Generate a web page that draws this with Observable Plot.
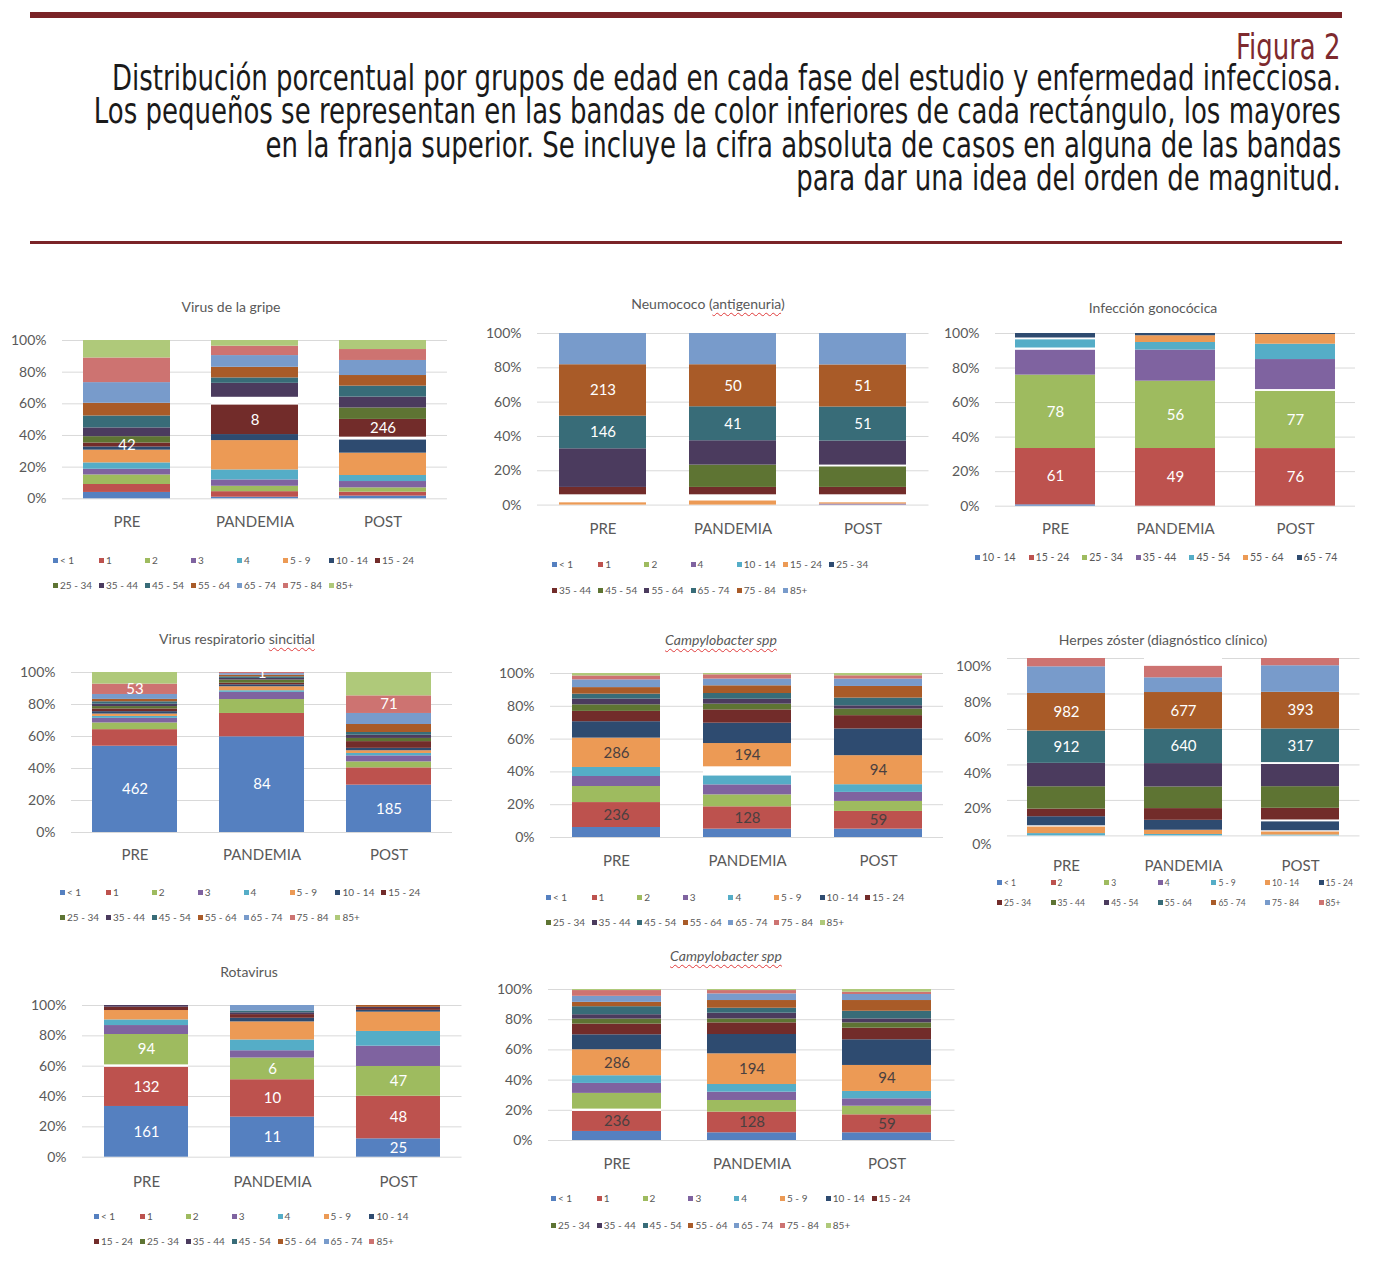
<!DOCTYPE html>
<html><head><meta charset="utf-8">
<script src="https://cdn.jsdelivr.net/npm/d3@7"></script>
<script src="https://cdn.jsdelivr.net/npm/@observablehq/plot@0.6"></script>
<style>
body{margin:0;background:#fff;}
#page{position:relative;width:1376px;height:1268px;overflow:hidden;font-family:Lato,"Open Sans",sans-serif;background:#fff;}
.rule{position:absolute;background:#7a2327;}
.hdr{position:absolute;right:35px;white-space:nowrap;font-family:"Liberation Sans Narrow","DejaVu Sans Condensed",sans-serif;font-size:35px;line-height:33px;color:#1a1a1a;transform-origin:right center;}
.title{position:absolute;transform:translate(-50%,-50%);white-space:nowrap;font-size:14px;color:#595959;}
.w{text-decoration:underline wavy #e03a3a;text-decoration-thickness:1px;text-underline-offset:3px;}
.lg{position:absolute;white-space:nowrap;color:#595959;line-height:12px;transform:translateY(-50%);}
.lg i{display:inline-block;width:5px;height:5px;margin-right:2px;vertical-align:1px;}
svg{position:absolute;overflow:visible;}
</style></head><body><div id="page"></div>
<script>
// ---------- data ----------
const phases = ["PRE", "PANDEMIA", "POST"];
const yTicks = [0, 0.2, 0.4, 0.6, 0.8, 1];
const palette = ["#5580C0","#BD524E","#9EBB5F","#7F63A0","#55ADC7","#EC9A55","#2E4B70","#722C2A","#5E7433","#4B3B5E","#386C78","#A95B28","#789BCB","#CD7371","#AFC97A"];

const headerFig = "Figura 2";
const headerLines = [
  "Distribución porcentual por grupos de edad en cada fase del estudio y enfermedad infecciosa.",
  "Los pequeños se representan en las bandas de color inferiores de cada rectángulo, los mayores",
  "en la franja superior. Se incluye la cifra absoluta de casos en alguna de las bandas",
  "para dar una idea del orden de magnitud."
];

const ages15 = ["< 1","1","2","3","4","5 - 9","10 - 14","15 - 24","25 - 34","35 - 44","45 - 54","55 - 64","65 - 74","75 - 84","85+"];

// Virus de la gripe
const gripePRE      = [4, 5, 6, 3.6, 4, 8, 2, 2.5, 4, 5.5, 7.5, 8, 13, 15.5, 11];
const gripePANDEMIA = [1, 3.5, 3.4, 4, 6.3, 18.5, 3.8, 18.7, 0, 8.8, 3.4, 6.7, 7.4, 5.9, 3.6];
const gripePOST     = [1.7, 2.5, 2.7, 4, 3.8, 14.1, 8.4, 11.2, 7.2, 6.9, 6.9, 6.7, 9.5, 6.9, 5.7];
const gripeGaps     = [["PANDEMIA","15 - 24",4.8],["POST","10 - 14",1.7]];
const gripeLabels   = [["PRE","15 - 24","42"],["PANDEMIA","15 - 24","8"],["POST","15 - 24","246"]];

// Neumococo
const neumoAges     = ["< 1","1","2","4","10 - 14","15 - 24","25 - 34","35 - 44","45 - 54","55 - 64","65 - 74","75 - 84","85+"];
const neumoPRE      = [0, 0, 0, 0, 0, 1.4, 0, 4.3, 0, 22.5, 19, 30, 18.2];
const neumoPANDEMIA = [0, 0, 0, 0, 0, 2.5, 0, 4.3, 13, 14.2, 19.8, 24.5, 18.2];
const neumoPOST     = [0, 0, 0, 0.6, 0, 0.8, 0, 4.3, 12, 14, 19.8, 24.5, 18.3];
const neumoGaps     = [["PRE","15 - 24",4.6],["PANDEMIA","15 - 24",3.5],["POST","15 - 24",4.6],["POST","45 - 54",1]];
const neumoLabels   = [["PRE","65 - 74","146"],["PRE","75 - 84","213"],["PANDEMIA","65 - 74","41"],["PANDEMIA","75 - 84","50"],["POST","65 - 74","51"],["POST","75 - 84","51"]];

// Infección gonocócica
const gonoAges      = ["10 - 14","15 - 24","25 - 34","35 - 44","45 - 54","55 - 64","65 - 74"];
const gonoPRE       = [0.8, 32.6, 42.5, 14.5, 4.8, 0, 2.6];
const gonoPANDEMIA  = [0, 33.4, 39, 18, 4.4, 3.9, 1.3];
const gonoPOST      = [0, 33.4, 33.2, 17.4, 8.9, 5.6, 0.6];
const gonoGaps      = [["PRE","35 - 44",1.2],["PRE","45 - 54",1],["POST","25 - 34",1]];
const gonoLabels    = [["PRE","15 - 24","61"],["PRE","25 - 34","78"],["PANDEMIA","15 - 24","49"],["PANDEMIA","25 - 34","56"],["POST","15 - 24","76"],["POST","25 - 34","77"]];

// Virus respiratorio sincitial
const vrsPRE        = [54.2, 10.4, 4.2, 2.9, 1.2, 1.5, 1.5, 1.7, 1.5, 1.5, 1.5, 1.5, 3.1, 6.5, 7.3];
const vrsPANDEMIA   = [59.8, 14.6, 8.7, 4.5, 1, 2.5, 1.2, 1, 2, 1, 1, 1, 1, 0.7, 0];
const vrsPOST       = [29.6, 10.8, 3.75, 3.75, 1.5, 1.7, 1.5, 4.2, 2, 2, 1.7, 5, 6.9, 11, 14.6];
const vrsGaps       = [];
const vrsLabels     = [["PRE","< 1","462"],["PRE","75 - 84","53"],["PANDEMIA","< 1","84"],["PANDEMIA","75 - 84","1"],["POST","< 1","185"],["POST","75 - 84","71"]];

// Campylobacter spp (1)
const campy1PRE      = [6.1, 15.2, 9.8, 6.1, 5.5, 17.9, 10, 6.3, 4, 3.5, 3, 4, 4.7, 2.4, 1.5];
const campy1PANDEMIA = [5.1, 13.6, 7.3, 6.1, 5.5, 14.2, 12.4, 8.1, 3.5, 3, 3.5, 4.7, 4.1, 2.6, 0.8];
const campy1POST     = [5.1, 10.8, 6.1, 5.5, 4.7, 17.7, 16.3, 8.1, 4, 2, 4.7, 7.1, 4.5, 2, 1.4];
const campy1Gaps     = [["PANDEMIA","4",5.5]];
const campy1Labels   = [["PRE","1","236"],["PRE","5 - 9","286"],["PANDEMIA","1","128"],["PANDEMIA","5 - 9","194"],["POST","1","59"],["POST","5 - 9","94"]];

// Herpes zóster
const herpesAges     = ["< 1","2","3","4","5 - 9","10 - 14","15 - 24","25 - 34","35 - 44","45 - 54","55 - 64","65 - 74","75 - 84","85+"];
const herpesPRE      = [0, 0, 0, 0, 1.3, 3.8, 5.1, 4.3, 12.6, 13.2, 18.2, 21.2, 15, 4.7];
const herpesPANDEMIA = [0, 0, 0, 0, 0.8, 2.4, 5.6, 6.6, 12.2, 13.2, 19.4, 20.7, 8.3, 6.6];
const herpesPOST     = [0, 0, 0, 0, 0.5, 1.8, 5.1, 6.6, 12.2, 12.6, 19, 20.7, 15, 4.1];
const herpesGaps     = [["PRE","10 - 14",0.6],["PANDEMIA","85+",4.3],["POST","10 - 14",0.6],["POST","15 - 24",1],["POST","45 - 54",1]];
const herpesLabels   = [["PRE","55 - 64","912"],["PRE","65 - 74","982"],["PANDEMIA","55 - 64","640"],["PANDEMIA","65 - 74","677"],["POST","55 - 64","317"],["POST","65 - 74","393"]];

// Rotavirus
const rotaAges       = ["< 1","1","2","3","4","5 - 9","10 - 14","15 - 24","25 - 34","35 - 44","45 - 54","55 - 64","65 - 74","85+"];
const rotaPRE        = [33.4, 25.9, 20, 5.9, 3.7, 6.2, 0, 2.2, 0, 1.1, 0, 0, 0, 0];
const rotaPANDEMIA   = [26.4, 24.6, 14.3, 4.8, 7.1, 11.9, 2.4, 2.4, 0, 1.2, 1.2, 0, 3.6, 0];
const rotaPOST       = [12.1, 28.1, 19.6, 13.4, 9.7, 12.7, 1.2, 1.2, 0, 0.8, 0, 1.2, 0, 0];
const rotaGaps       = [["PRE","1",1.5]];
const rotaLabels     = [["PRE","< 1","161"],["PRE","1","132"],["PRE","2","94"],["PANDEMIA","< 1","11"],["PANDEMIA","1","10"],["PANDEMIA","2","6"],["POST","< 1","25"],["POST","1","48"],["POST","2","47"]];

// Campylobacter spp (2)
const campy2PRE      = [6, 13.3, 10.4, 6.6, 5.1, 17.2, 9.9, 7.1, 3.3, 2.9, 5.3, 2.9, 4, 3.8, 0.7];
const campy2PANDEMIA = [5.1, 13.7, 7.7, 5.5, 5.1, 20.3, 12.8, 7.7, 2.6, 3.8, 3.3, 5.1, 4.4, 2.2, 0.7];
const campy2POST     = [5.1, 11.9, 5.7, 4.9, 4.9, 17.2, 17, 7.7, 3.5, 2.6, 5.1, 7.1, 4, 1.5, 1.8];
const campy2Gaps     = [["PRE","1",1.5]];
const campy2Labels   = [["PRE","1","236"],["PRE","5 - 9","286"],["PANDEMIA","1","128"],["PANDEMIA","5 - 9","194"],["POST","1","59"],["POST","5 - 9","94"]];

// ---------- layout ----------
const charts = [
  {title:'Virus de la gripe', ages:ages15, vals:[gripePRE,gripePANDEMIA,gripePOST], gaps:gripeGaps, labels:gripeLabels,
   fx:[62,447], fy:[340,498.3], pad:0.32, tx:231, ty:306, xPad:18, lx:53, ly:[559.5,584.5], lcol:46, perRow:8, lc:"#fff", lf:10},
  {title:'Neumococo (<span class="w">antigenuria</span>)', ages:neumoAges, vals:[neumoPRE,neumoPANDEMIA,neumoPOST], gaps:neumoGaps, labels:neumoLabels,
   fx:[537,928.5], fy:[332.7,504.3], pad:0.33, tx:708, ty:303, xPad:18, lx:552, ly:[564,590], lcol:46.2, perRow:7, lc:"#fff", lf:10},
  {title:'Infección gonocócica', ages:gonoAges, vals:[gonoPRE,gonoPANDEMIA,gonoPOST], gaps:gonoGaps, labels:gonoLabels,
   fx:[994.5,1354.5], fy:[333.3,506], pad:0.333, tx:1153, ty:306.5, xPad:17, lx:975, ly:[556.7], lcol:53.6, perRow:7, lc:"#fff", lf:10.5},
  {title:'Virus respiratorio <span class="w">sincitial</span>', ages:ages15, vals:[vrsPRE,vrsPANDEMIA,vrsPOST], gaps:vrsGaps, labels:vrsLabels,
   fx:[71,452], fy:[672.3,832.3], pad:0.33, tx:237, ty:638, xPad:16.5, lx:60, ly:[891.7,916.7], lcol:45.9, perRow:8, lc:"#fff", lf:10},
  {title:'<i class="w">Campylobacter spp</i>', ages:ages15, vals:[campy1PRE,campy1PANDEMIA,campy1POST], gaps:campy1Gaps, labels:campy1Labels,
   fx:[549.5,942.5], fy:[672.7,836.7], pad:0.33, tx:721, ty:639, xPad:18, lx:546, ly:[896.7,921.7], lcol:45.6, perRow:8, lc:"#4a4040", lf:10},
  {title:'Herpes zóster (diagnóstico clínico)', ages:herpesAges, vals:[herpesPRE,herpesPANDEMIA,herpesPOST], gaps:herpesGaps, labels:herpesLabels,
   fx:[1007,1359.5], fy:[658.3,835.7], pad:0.336, tx:1163, ty:639, xPad:24.5, lx:997, ly:[882.7,902.7], lcol:53.6, perRow:7, lc:"#fff", lf:8.5, yShift:8.5},
  {title:'Rotavirus', ages:rotaAges, vals:[rotaPRE,rotaPANDEMIA,rotaPOST], gaps:rotaGaps, labels:rotaLabels,
   fx:[81.75,461.25], fy:[1005,1156.7], pad:0.33, tx:249, ty:971, xPad:19, lx:94, ly:[1216,1241], lcol:45.9, perRow:7, lc:"#fff", lf:10},
  {title:'<i class="w">Campylobacter spp</i>', ages:ages15, vals:[campy2PRE,campy2PANDEMIA,campy2POST], gaps:campy2Gaps, labels:campy2Labels,
   fx:[547.75,954.25], fy:[989,1140], pad:0.343, tx:726, ty:955, xPad:17.5, lx:551, ly:[1198.3,1225], lcol:45.8, perRow:8, lc:"#4a4040", lf:10}
];

const page = document.getElementById("page");

// ---------- header ----------
function addRule(top, h) {
  const r = document.createElement("div");
  r.className = "rule";
  Object.assign(r.style, {left: "30px", width: "1312px", top: top + "px", height: h + "px"});
  page.appendChild(r);
}
addRule(11.7, 6.5);
addRule(241, 2.5);
const hdrEls = [];
function addHdr(text, baseline, color) {
  const d = document.createElement("div");
  d.className = "hdr";
  d.textContent = text;
  d.style.top = (baseline - 28.6) + "px";
  if (color) d.style.color = color;
  page.appendChild(d);
  hdrEls.push(d);
  return d;
}
addHdr(headerFig, 59.3, "#7e2a2e");
const hdrBase = [90.7, 124, 157.3, 190.7];
const firstLine = headerLines.map((t, i) => addHdr(t, hdrBase[i]))[0];
function fitHeader() {
  hdrEls.forEach(e => e.style.transform = "none");
  const w = firstLine.getBoundingClientRect().width;
  const k = 1229 / w;
  hdrEls.forEach(e => e.style.transform = `scaleX(${k})`);
}
fitHeader();
if (document.fonts && document.fonts.ready) document.fonts.ready.then(fitHeader);

// ---------- charts ----------
function makeChart(c) {
  const rows = [];
  phases.forEach((p, pi) => {
    c.ages.forEach((a, i) => {
      const lab = c.labels.find(l => l[0] === p && l[1] === a);
      rows.push({phase: p, age: a, value: c.vals[pi][i], label: lab ? lab[2] : null});
      c.gaps.filter(g => g[0] === p && g[1] === a).forEach(g => rows.push({phase: p, age: "gap", value: g[2], label: null}));
    });
  });
  const mL = 60, mR = 10, mT = 14, mB = 42;
  const W = c.fx[1] - c.fx[0] + mL + mR;
  const H = c.fy[1] - c.fy[0] + mT + mB;
  const st = {x: "phase", y: "value", offset: "normalize", order: null};
  const svg = Plot.plot({
    width: W, height: H,
    marginLeft: mL, marginRight: mR, marginTop: mT, marginBottom: mB,
    style: {fontFamily: "Lato, 'Open Sans', sans-serif", fontSize: "14px", color: "#595959", background: "transparent", overflow: "visible"},
    x: {domain: phases, paddingInner: c.pad, paddingOuter: c.pad / 2, tickSize: 0, tickPadding: c.xPad, label: null},
    y: {domain: [0, 1], ticks: yTicks, tickFormat: d3.format(".0%"), tickSize: 0, tickPadding: 16, label: null},
    color: {domain: [...c.ages, "gap"], range: [...palette.slice(0, c.ages.length), "#ffffff"]},
    marks: [
      Plot.ruleY(yTicks, {stroke: "#d9d9d9", strokeWidth: 1}),
      Plot.barY(rows, Plot.stackY({...st, fill: "age"})),
      Plot.text(rows, Plot.stackY({...st, text: "label", fill: c.lc, fontSize: 15}))
    ]
  });
  svg.style.left = (c.fx[0] - mL) + "px";
  svg.style.top = (c.fy[0] - mT) + "px";
  svg.querySelectorAll('[aria-label^="x-axis"] text').forEach(t => { t.style.fontSize = "15px"; });
  svg.querySelectorAll('[aria-label^="y-axis"] text').forEach(t => { t.style.fontSize = "14px"; });
  if (c.yShift) {
    svg.querySelectorAll('[aria-label^="y-axis"]').forEach(g => {
      const tr = g.getAttribute("transform") || "";
      g.setAttribute("transform", tr + ` translate(0,${c.yShift})`);
    });
  }
  page.appendChild(svg);

  const t = document.createElement("div");
  t.className = "title";
  t.innerHTML = c.title;
  t.style.left = c.tx + "px";
  t.style.top = c.ty + "px";
  page.appendChild(t);

  c.ages.forEach((a, i) => {
    const row = Math.floor(i / c.perRow), col = i % c.perRow;
    const d = document.createElement("div");
    d.className = "lg";
    d.style.left = (c.lx + col * c.lcol) + "px";
    d.style.top = c.ly[row] + "px";
    d.style.fontSize = c.lf + "px";
    const sw = document.createElement("i");
    sw.style.background = palette[i];
    d.appendChild(sw);
    d.appendChild(document.createTextNode(a));
    page.appendChild(d);
  });
}
charts.forEach(makeChart);
</script></body></html>
